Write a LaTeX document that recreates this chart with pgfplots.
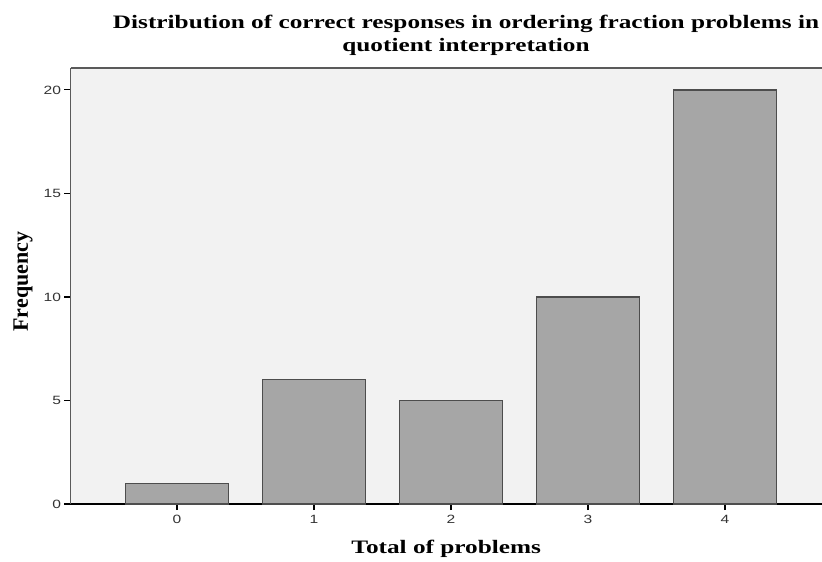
\documentclass[border=0pt]{standalone}
\usepackage{fontspec}
\setmainfont{Liberation Serif}
\newfontfamily\widebf{Liberation Serif}[FakeStretch=1.33]
\newfontfamily\arialf{Liberation Sans}[FakeStretch=1.3]
\usepackage{pgfplots}
\pgfplotsset{compat=1.18}
\definecolor{bgc}{HTML}{F2F2F2}
\definecolor{barc}{HTML}{A6A6A6}
\definecolor{edgec}{HTML}{4D4D4D}
\definecolor{axc}{HTML}{5A5A5A}
\begin{document}
\begin{tikzpicture}
\useasboundingbox (-70.5bp,-58bp) rectangle (751.5bp,504bp);
\begin{axis}[
 at={(0,0)}, anchor=south west,
 scale only axis, width=751.5bp, height=436bp,
 xmin=-0.777, xmax=4.708, ymin=0, ymax=21.06,
 axis background/.style={fill=bgc},
 axis lines*=left, axis line style={-},
 x axis line style={black, line width=1.5bp},
 y axis line style={axc, line width=1.8bp},
 xtick={0,...,4}, ytick={0,5,...,20},
 tick align=outside, major tick length=6bp,
 tick style={black, line width=1.1bp},
 ticklabel style={font=\arialf\fontsize{12bp}{14bp}\selectfont, text=black!80},
 xticklabel style={yshift=-2bp},
 /pgf/number format/assume math mode=true,
 xlabel={Total of problems}, ylabel={Frequency},
 xlabel style={at={(axis description cs:0.5,-0.1032)}, anchor=center,
   font=\widebf\bfseries\fontsize{19bp}{22bp}\selectfont},
 ylabel style={at={(axis description cs:-0.0632,0.51)}, anchor=center, rotate=0,
   font=\bfseries\fontsize{22bp}{24bp}\selectfont},
 title={Distribution of correct responses in ordering fraction problems in\\quotient interpretation},
 title style={at={(axis description cs:0.5263,1.061)}, anchor=center, align=center,
   font=\widebf\bfseries\fontsize{19bp}{23bp}\selectfont},
]
\addplot[ybar, bar width=0.755, fill=barc, draw=edgec, line width=1.4bp] coordinates {(0,1) (1,6) (2,5) (3,10) (4,20)};
\draw[axc, line width=1.8bp] (rel axis cs:0,1) -- (rel axis cs:1,1);
\end{axis}
\end{tikzpicture}
\end{document}
